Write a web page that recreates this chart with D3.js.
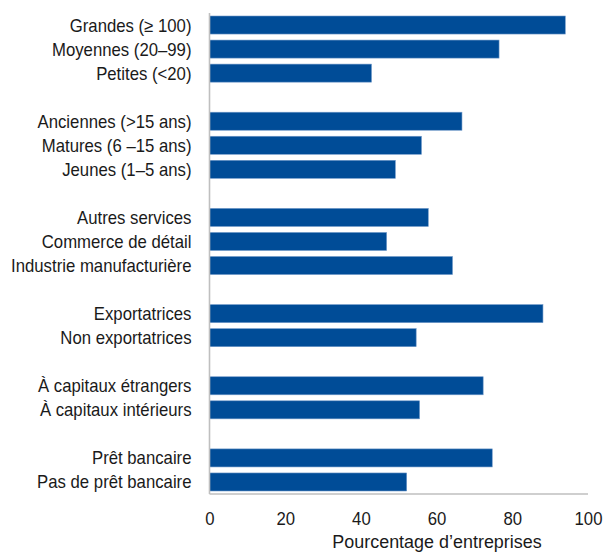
<!DOCTYPE html>
<html>
<head>
<meta charset="utf-8">
<script src="https://cdn.jsdelivr.net/npm/d3@7"></script>
<style>
  html, body { margin: 0; padding: 0; background: #fff; }
  svg { display: block; }
  text { font-family: "Liberation Sans", Arial, sans-serif; fill: #1a1a1a; }
</style>
</head>
<body>
<svg id="chart" width="605" height="554"></svg>
<script>
// ---- Data ----
const groupSize   = ["Grandes (≥ 100)", "Moyennes (20–99)", "Petites (<20)"];
const valuesSize  = [94.0, 76.5, 42.8];
const groupAge    = ["Anciennes (>15 ans)", "Matures (6 –15 ans)", "Jeunes (1–5 ans)"];
const valuesAge   = [66.7, 56.0, 49.1];
const groupSector = ["Autres services", "Commerce de détail", "Industrie manufacturière"];
const valuesSector= [57.8, 46.8, 64.2];
const groupExport = ["Exportatrices", "Non exportatrices"];
const valuesExport= [88.1, 54.6];
const groupOwner  = ["À capitaux étrangers", "À capitaux intérieurs"];
const valuesOwner = [72.3, 55.5];
const groupLoan   = ["Prêt bancaire", "Pas de prêt bancaire"];
const valuesLoan  = [74.7, 52.1];
const xTicks      = [0, 20, 40, 60, 80, 100];
const xTitle      = "Pourcentage d’entreprises";

// ---- Build rows with spacer slots between groups ----
const groups = [
  [groupSize, valuesSize], [groupAge, valuesAge], [groupSector, valuesSector],
  [groupExport, valuesExport], [groupOwner, valuesOwner], [groupLoan, valuesLoan]
];
const rows = [];
groups.forEach(([cats, vals], gi) => {
  if (gi > 0) rows.push({ key: "__gap" + gi, label: null, value: null });
  cats.forEach((c, i) => rows.push({ key: c, label: c, value: vals[i] }));
});
const data = rows.filter(r => r.label !== null);

// ---- Layout ----
const svg = d3.select("#chart");
const plotLeft = 209.5, plotRight = 588, plotTop = 13, plotBottom = 494;
const fontSize = 18, squeeze = 0.93;
const barColor = "#004C97";
const axisColor = "#bfbfbf";

const x = d3.scaleLinear().domain([0, 100]).range([plotLeft, plotRight]);
const y = d3.scaleBand()
  .domain(rows.map(r => r.key))
  .range([plotTop, plotBottom])
  .paddingInner(0.25)
  .paddingOuter(0.125);

// Bars
svg.append("g").selectAll("rect")
  .data(data)
  .join("rect")
  .attr("x", x(0))
  .attr("y", d => y(d.key))
  .attr("width", d => x(d.value) - x(0))
  .attr("height", y.bandwidth())
  .attr("fill", barColor)
  .attr("stroke", "#6f98c8")
  .attr("stroke-width", 0.6);

// Category labels
svg.append("g").selectAll("text")
  .data(data)
  .join("text")
  .attr("transform", d => `translate(191.5, ${y(d.key) + y.bandwidth() / 2 + fontSize * 0.36}) scale(${squeeze},1)`)
  .attr("text-anchor", "end")
  .attr("font-size", fontSize)
  .text(d => d.label);

// X axis (no tick marks)
const xAxis = d3.axisBottom(x).tickValues(xTicks).tickSize(0).tickPadding(0).tickFormat(d3.format("d"));
const gx = svg.append("g").attr("transform", `translate(0, ${plotBottom})`).call(xAxis);
gx.select(".domain").attr("stroke", axisColor).attr("stroke-width", 1.6).attr("d", `M${plotLeft},0H${plotRight}`);
gx.selectAll(".tick text")
  .attr("font-size", fontSize)
  .attr("font-family", "'Liberation Sans', Arial, sans-serif")
  .attr("fill", "#1a1a1a")
  .attr("dy", null)
  .attr("y", 31)
  .attr("text-anchor", "middle")
  .style("transform", `scaleX(${squeeze})`)
  .style("transform-box", "fill-box")
  .style("transform-origin", "center");

// Y axis line
svg.append("line")
  .attr("x1", plotLeft).attr("x2", plotLeft)
  .attr("y1", plotTop).attr("y2", plotBottom)
  .attr("stroke", axisColor).attr("stroke-width", 1.6);

// Axis title
svg.append("text")
  .attr("transform", `translate(437, 548) scale(0.97,1)`)
  .attr("text-anchor", "middle")
  .attr("font-size", 18.5)
  .text(xTitle);
</script>
</body>
</html>
